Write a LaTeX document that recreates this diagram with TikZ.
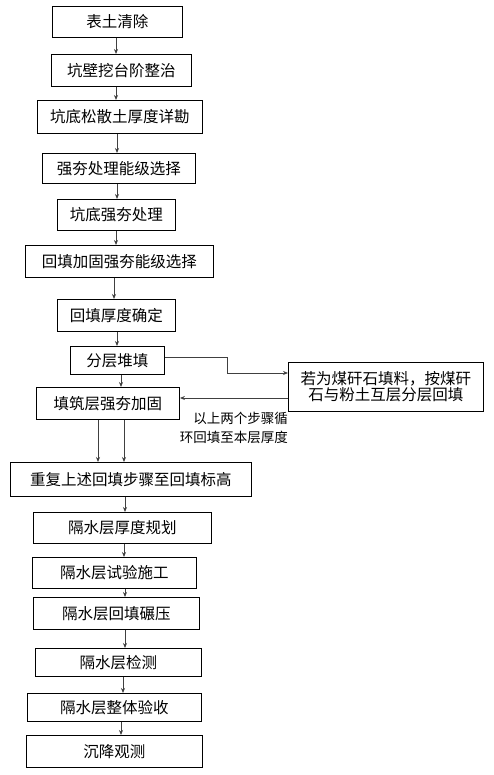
\documentclass[tikz,border=0pt]{standalone}
\usepackage{fontspec}
\setmainfont{Noto Sans CJK SC}
\usetikzlibrary{arrows.meta}
\tikzset{
  box/.style={draw=black, line width=0.9pt, inner sep=0pt, font=\fontsize{15.5}{17}\selectfont},
  conn/.style={draw=black!75, line width=0.8pt, -{Stealth[length=5pt,width=4pt]}},
  plain/.style={draw=black!75, line width=0.8pt},
  lbl/.style={font=\fontsize{13.5}{17}\selectfont, align=right, inner sep=0pt}
}
\newcommand{\bx}[6]{% name, x1,y1,x2,y2, text
  \node[box, minimum width=#4pt-#2pt, minimum height=#5pt-#3pt, anchor=north west] (#1) at (#2,#3) {#6};}
\begin{document}
\begin{tikzpicture}[x=1pt,y=-1pt]
\useasboundingbox (0,0) rectangle (494,775);
\bx{b1}{52}{6}{182}{37}{表土清除}
\bx{b2}{51}{54}{191}{86}{坑壁挖台阶整治}
\bx{b3}{37}{100}{202}{133}{坑底松散土厚度详勘}
\bx{b4}{42}{153}{195}{183}{强夯处理能级选择}
\bx{b5}{57}{199}{175}{230}{坑底强夯处理}
\bx{b6}{25}{245}{213}{277}{回填加固强夯能级选择}
\bx{b7}{57}{299}{175}{331}{回填厚度确定}
\bx{b8}{70}{346}{164}{374}{分层堆填}
\bx{b9}{36}{387}{179}{419}{填筑层强夯加固}
\node[box, minimum width=195pt, minimum height=49pt, anchor=north west, align=center] (r) at (288,362) {若为煤矸石填料，按煤矸\\[-1pt]石与粉土互层分层回填};
\bx{b10}{10}{462}{251}{496}{重复上述回填步骤至回填标高}
\bx{b11}{33}{512}{211}{543}{隔水层厚度规划}
\bx{b12}{32}{557}{196}{588}{隔水层试验施工}
\bx{b13}{33}{597}{199}{629}{隔水层回填碾压}
\bx{b14}{35}{648}{201}{676}{隔水层检测}
\bx{b15}{27}{693}{201}{721}{隔水层整体验收}
\bx{b16}{26}{735}{202}{767}{沉降观测}
\node[lbl, anchor=north east] (note) at (288,412) {以上两个步骤循\\[2pt]环回填至本层厚度};
% connectors
\draw[conn] (b1.south -| 116,0) -- (b2.north -| 116,0);
\draw[conn] (b2.south -| 116,0) -- (b3.north -| 116,0);
\draw[conn] (b3.south -| 117,0) -- (b4.north -| 117,0);
\draw[conn] (b4.south -| 117,0) -- (b5.north -| 117,0);
\draw[conn] (b5.south -| 116,0) -- (b6.north -| 116,0);
\draw[conn] (b6.south -| 114,0) -- (b7.north -| 114,0);
\draw[conn] (b7.south -| 117,0) -- (b8.north -| 117,0);
\draw[conn] (b8.south -| 121,0) -- (b9.north -| 121,0);
\coordinate (k1) at (227,357);
\coordinate (k2) at (227,373);
\draw[conn] (b8.east |- k1) -- (k1) -- (k2) -- (r.west |- k2);
\draw[conn] (r.west |- 0,398) -- (b9.east |- 0,398);
\draw[conn] (b9.south -| 98,0) -- (b10.north -| 98,0);
\draw[conn] (b9.south -| 124,0) -- (b10.north -| 124,0);
\draw[conn] (b10.south -| 125,0) -- (b11.north -| 125,0);
\draw[conn] (b11.south -| 124,0) -- (b12.north -| 124,0);
\draw[conn] (b12.south -| 125,0) -- (b13.north -| 125,0);
\draw[conn] (b13.south -| 125,0) -- (b14.north -| 125,0);
\draw[conn] (b14.south -| 123,0) -- (b15.north -| 123,0);
\draw[conn] (b15.south -| 121,0) -- (b16.north -| 121,0);
\end{tikzpicture}
\end{document}
